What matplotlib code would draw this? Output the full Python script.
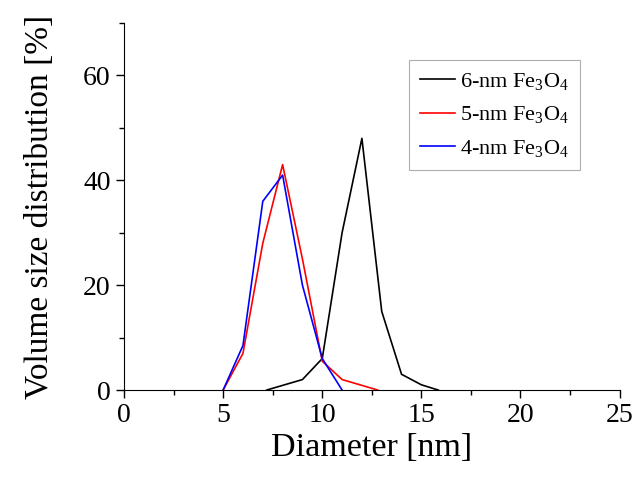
import matplotlib
matplotlib.use("Agg")
import matplotlib.pyplot as plt
from matplotlib.ticker import MultipleLocator

plt.rcParams['font.family'] = 'Liberation Serif'
plt.rcParams['mathtext.fontset'] = 'custom'
plt.rcParams['mathtext.rm'] = 'Liberation Serif'
plt.rcParams['mathtext.it'] = 'Liberation Serif'

# 6-nm Fe3O4
d6 = [7.2, 9, 10, 11, 12, 13, 14, 15, 15.85]
v6 = [0, 2, 6, 30, 48, 15, 3, 1, 0]
# 5-nm Fe3O4
d5 = [5, 6, 7, 8, 9, 10, 11, 12.8]
v5 = [0, 7, 28, 43, 25, 5.5, 2, 0]
# 4-nm Fe3O4
d4 = [5, 6, 7, 8, 9, 10, 11]
v4 = [0, 8.5, 36, 41, 20, 6, 0]

labels = ['6-nm Fe$_3$O$_4$', '5-nm Fe$_3$O$_4$', '4-nm Fe$_3$O$_4$']

fig = plt.figure(figsize=(6.37, 4.9), dpi=100)
ax = fig.add_axes([0.1947, 0.204, 0.778, 0.749])

ax.plot(d6, v6, color='black', lw=1.2, label=labels[0])
ax.plot(d5, v5, color='red', lw=1.2, label=labels[1])
ax.plot(d4, v4, color='blue', lw=1.2, label=labels[2])

ax.set_xlim(0, 25)
ax.set_ylim(0, 70)
ax.xaxis.set_major_locator(MultipleLocator(5))
ax.xaxis.set_minor_locator(MultipleLocator(2.5))
ax.yaxis.set_major_locator(MultipleLocator(20))
ax.yaxis.set_minor_locator(MultipleLocator(10))
ax.tick_params(which='major', direction='out', length=6, width=1, labelsize=20)
ax.tick_params(which='minor', direction='out', length=3.5, width=1)
ax.spines['top'].set_visible(False)
ax.spines['right'].set_visible(False)

ax.set_xlabel('Diameter [nm]', fontsize=24.5, labelpad=3)
ax.set_ylabel('Volume size distribution [%]', fontsize=24, labelpad=20)

leg = ax.legend(loc='upper right', bbox_to_anchor=(0.92, 0.899), fontsize=16,
                frameon=True, fancybox=False, edgecolor='#999999',
                handlelength=1.6, handletextpad=0.2, borderpad=0.5,
                labelspacing=0.55, borderaxespad=0)
leg.get_frame().set_linewidth(0.8)

fig.savefig('out.png', dpi=100)
